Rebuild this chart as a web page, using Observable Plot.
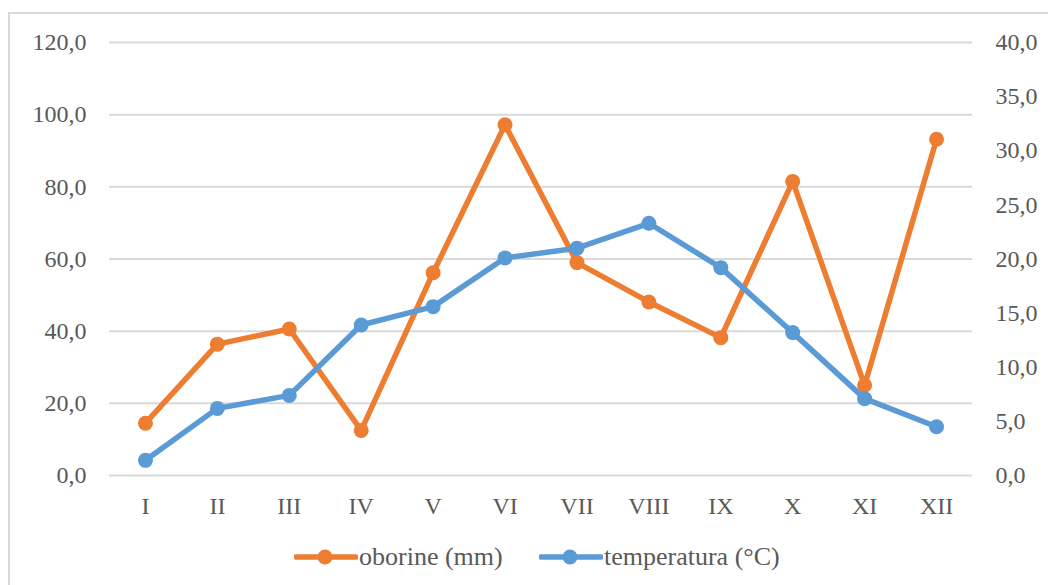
<!DOCTYPE html>
<html>
<head>
<meta charset="utf-8">
<script src="https://cdn.jsdelivr.net/npm/d3@7"></script>
<script src="https://cdn.jsdelivr.net/npm/@observablehq/plot@0.6"></script>
<style>
  html, body { margin: 0; padding: 0; background: #fff; }
  #wrap { position: relative; width: 1048px; height: 585px; overflow: hidden; font-family: "Liberation Serif", "Times New Roman", serif; }
  #frame { position: absolute; left: 8px; top: 12px; width: 1100px; height: 700px; border-left: 2px solid #d9d9d9; border-top: 2px solid #d9d9d9; box-sizing: border-box; pointer-events: none; }
  #chart { position: absolute; left: 0; top: 0; }
  #legend { position: absolute; left: 0; top: 535px; width: 1048px; height: 50px; }
  .item { position: absolute; top: 0; height: 44px; display: flex; align-items: center; font-size: 26px; color: #595959; white-space: nowrap; }
</style>
</head>
<body>
<div id="wrap">
  <div id="chart"></div>
  <div id="legend"></div>
  <div id="frame"></div>
</div>
<script>
const months = ["I","II","III","IV","V","VI","VII","VIII","IX","X","XI","XII"];
const oborine = [14.5, 36.4, 40.6, 12.5, 56.2, 97.2, 59.0, 48.1, 38.2, 81.5, 25.0, 93.2];
const temperatura = [1.4, 6.2, 7.4, 13.9, 15.6, 20.1, 21.0, 23.3, 19.2, 13.2, 7.1, 4.5];
const leftTicks = [0, 20, 40, 60, 80, 100, 120];
const rightTicks = [0, 5, 10, 15, 20, 25, 30, 35, 40];
const seriesNames = ["oborine (mm)", "temperatura (°C)"];
const colors = ["#ED7D31", "#5B9BD5"];

const leftMax = 120, rightMax = 40;
const k = leftMax / rightMax; // map right-axis values into the left scale
const fmt = v => v.toFixed(1).replace(".", ",");

const rain = months.map((m, i) => ({month: m, value: oborine[i]}));
const temp = months.map((m, i) => ({month: m, value: temperatura[i] * k}));

const textColor = "#595959";
const chart = Plot.plot({
  width: 1048,
  height: 535,
  marginLeft: 109,
  marginRight: 76,
  marginTop: 42,
  marginBottom: 60,
  style: {fontFamily: "'Liberation Serif', 'Times New Roman', serif", fontSize: "24px", color: textColor, background: "transparent"},
  x: {type: "point", domain: months, padding: 0.5, round: false},
  y: {domain: [0, leftMax]},
  marks: [
    Plot.ruleY(leftTicks, {stroke: "#d9d9d9", strokeWidth: 2}),
    Plot.axisY({ticks: leftTicks, tickSize: 0, tickPadding: 23, tickFormat: fmt, label: null, fill: textColor}),
    Plot.axisY({anchor: "right", ticks: rightTicks.map(t => t * k), tickSize: 0, tickPadding: 23, tickFormat: d => fmt(d / k), label: null, textAnchor: "start", fill: textColor}),
    Plot.axisX({tickSize: 0, tickPadding: 21, label: null, fill: textColor}),
    Plot.line(rain, {x: "month", y: "value", stroke: colors[0], strokeWidth: 5.5, strokeLinejoin: "round", strokeLinecap: "round"}),
    Plot.dot(rain, {x: "month", y: "value", r: 7.5, fill: colors[0], stroke: "none"}),
    Plot.line(temp, {x: "month", y: "value", stroke: colors[1], strokeWidth: 5.5, strokeLinejoin: "round", strokeLinecap: "round"}),
    Plot.dot(temp, {x: "month", y: "value", r: 7.5, fill: colors[1], stroke: "none"})
  ]
});
document.getElementById("chart").appendChild(chart);

// Legend
const legend = document.getElementById("legend");
const lefts = [294, 539];
seriesNames.forEach((name, i) => {
  const item = document.createElement("div");
  item.className = "item";
  item.style.left = lefts[i] + "px";
  item.innerHTML = `<svg width="64" height="20" style="margin-right:1px"><line x1="2" y1="10" x2="62" y2="10" stroke="${colors[i]}" stroke-width="5.5" stroke-linecap="round"/><circle cx="31" cy="10" r="7.5" fill="${colors[i]}"/></svg><span>${name}</span>`;
  legend.appendChild(item);
});
</script>
</body>
</html>
